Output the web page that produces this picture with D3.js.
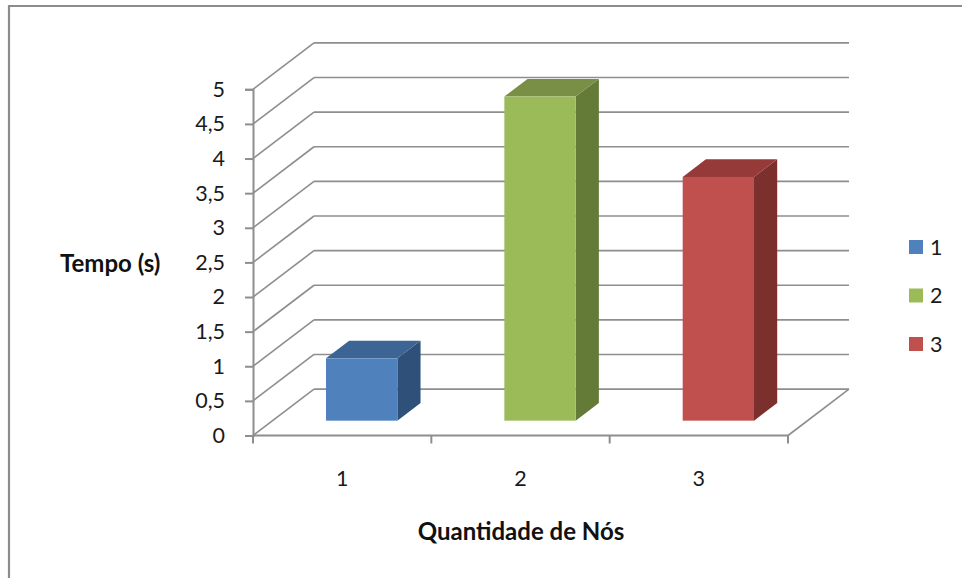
<!DOCTYPE html>
<html><head><meta charset="utf-8">
<script src="https://cdn.jsdelivr.net/npm/d3@7"></script>
<style>html,body{margin:0;padding:0;background:#fff;}</style>
</head><body>
<svg id="chart" width="962" height="578"></svg>
<script>
const categories = ["1", "2", "3"];
const values = [0.9, 4.68, 3.52];
const yTickValues = [0, 0.5, 1, 1.5, 2, 2.5, 3, 3.5, 4, 4.5, 5];
const yTickLabels = ["0", "0,5", "1", "1,5", "2", "2,5", "3", "3,5", "4", "4,5", "5"];
const legendLabels = ["1", "2", "3"];
const yTitle = "Tempo (s)";
const xTitle = "Quantidade de Nós";

const faceColors = ["#4F81BD", "#9BBB59", "#C0504D"];
const sideColors = ["#2F5078", "#647A37", "#7B302E"];
const topColors  = ["#3C6494", "#788F45", "#953A38"];

const FONT = "Lato, 'Open Sans', sans-serif";
const NUM_SIZE = 21.5, TITLE_SIZE = 24;
const svg = d3.select("#chart");

// border
svg.append("path").attr("d", "M9,578 V6 H962").attr("fill", "none")
  .attr("stroke", "#8c8c8c").attr("stroke-width", 2.2);

const x = d3.scaleBand().domain(categories).range([253, 788]).paddingInner(0).paddingOuter(0);
const y = d3.scaleLinear().domain([0, 5]).range([435.5, 89.3]);
const zx = d3.scaleLinear().domain([0, 1]).range([0, 61]);
const zy = d3.scaleLinear().domain([0, 1]).range([0, -46.4]);

const grid = svg.append("g").attr("stroke", "#8e8e8e").attr("stroke-width", 1.6).attr("fill", "none");
// back wall gridlines + side wall diagonals
yTickValues.filter(v => Number.isInteger(v * 2)).forEach(v => {
  grid.append("line").attr("x1", x.range()[0] + zx(1)).attr("x2", x.range()[1] + zx(1))
    .attr("y1", y(v) + zy(1)).attr("y2", y(v) + zy(1));
  grid.append("line").attr("x1", x.range()[0]).attr("y1", y(v))
    .attr("x2", x.range()[0] + zx(1)).attr("y2", y(v) + zy(1));
});
// floor right edge
grid.append("line").attr("x1", x.range()[1]).attr("y1", y(0))
  .attr("x2", x.range()[1] + zx(1)).attr("y2", y(0) + zy(1));

// Y axis
const yAxis = d3.axisLeft(y).tickValues(yTickValues)
  .tickFormat((d, i) => yTickLabels[i]).tickSize(8).tickPadding(20);
const gy = svg.append("g").attr("transform", `translate(${x.range()[0]},0)`).call(yAxis);
gy.select(".domain").attr("stroke", "#8e8e8e").attr("stroke-width", 2);
gy.selectAll(".tick line").attr("stroke", "#8e8e8e").attr("stroke-width", 2);
gy.selectAll(".tick text").attr("font-family", FONT).attr("font-size", NUM_SIZE).attr("fill", "#1a1a1a");

// X axis
const xTicks = categories.map(c => x(c)).concat([x.range()[1]]);
const gx = svg.append("g");
gx.append("line").attr("x1", x.range()[0]).attr("x2", x.range()[1]).attr("y1", y(0)).attr("y2", y(0))
  .attr("stroke", "#8e8e8e").attr("stroke-width", 2);
gx.selectAll("line.tk").data(xTicks).join("line").attr("class", "tk")
  .attr("x1", d => d).attr("x2", d => d).attr("y1", y(0)).attr("y2", y(0) + 8)
  .attr("stroke", "#8e8e8e").attr("stroke-width", 2);
gx.selectAll("text").data(categories).join("text")
  .attr("x", d => x(d) + x.bandwidth() / 2).attr("y", 486)
  .attr("text-anchor", "middle").attr("font-family", FONT).attr("font-size", NUM_SIZE).attr("fill", "#1a1a1a")
  .text(d => d);

// bars
const f0 = 0.32, f1 = 0.70, wFrac = 0.4;
const bars = svg.append("g");
categories.forEach((c, i) => {
  const cx = x(c) + x.bandwidth() / 2;
  const hw = x.bandwidth() * wFrac / 2;
  const xl = cx - hw + zx(f0), xr = cx + hw + zx(f0);
  const yb = y(0) + zy(f0), yt = y(values[i]) + zy(f0);
  const ddx = zx(f1) - zx(f0), ddy = zy(f1) - zy(f0);
  bars.append("path").attr("d", `M${xr},${yb} L${xr + ddx},${yb + ddy} L${xr + ddx},${yt + ddy} L${xr},${yt} Z`)
    .attr("fill", sideColors[i]);
  bars.append("path").attr("d", `M${xl},${yt} L${xl + ddx},${yt + ddy} L${xr + ddx},${yt + ddy} L${xr},${yt} Z`)
    .attr("fill", topColors[i]);
  bars.append("rect").attr("x", xl).attr("y", yt).attr("width", xr - xl).attr("height", yb - yt)
    .attr("fill", faceColors[i]);
});

// titles
svg.append("text").attr("x", 60).attr("y", 272).attr("font-family", FONT).attr("font-weight", "bold")
  .attr("font-size", TITLE_SIZE).attr("fill", "#111").text(yTitle);
svg.append("text").attr("x", 521).attr("y", 540).attr("text-anchor", "middle").attr("font-family", FONT)
  .attr("font-weight", "bold").attr("font-size", TITLE_SIZE).attr("fill", "#111").text(xTitle);

// legend
const lg = svg.append("g");
legendLabels.forEach((l, i) => {
  const ty = 240 + i * 48.5;
  lg.append("rect").attr("x", 909).attr("y", ty).attr("width", 14).attr("height", 14).attr("fill", faceColors[i]);
  lg.append("text").attr("x", 930).attr("y", ty + 14.5).attr("font-family", FONT).attr("font-size", NUM_SIZE)
    .attr("fill", "#1a1a1a").text(l);
});
</script>
</body></html>
